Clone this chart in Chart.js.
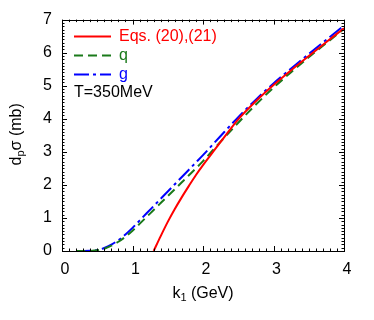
<!DOCTYPE html>
<html>
<head>
<meta charset="utf-8">
<script src="https://cdn.jsdelivr.net/npm/chart.js@4/dist/chart.umd.min.js"></script>
<style>
html,body{margin:0;padding:0;background:#fff;}
#wrap{width:374px;height:320px;position:relative;}
</style>
</head>
<body>
<div id="wrap"><canvas id="c" width="374" height="320"></canvas></div>
<script>
// ---- data ----
const kQG   = [0.2,0.3,0.4,0.5,0.6,0.7,0.8,0.9,1.0,1.1,1.2,1.3,1.4,1.5,1.6,1.7,1.8,1.9,2.0,2.25,2.5,2.75,3.0,3.25,3.5,3.75,4.0];
const gVals = [0,0,0.005,0.03,0.09,0.19,0.33,0.5,0.7,0.92,1.14,1.36,1.58,1.8,2.02,2.24,2.46,2.68,2.9,3.48,4.05,4.58,5.07,5.52,5.96,6.39,6.82];
const qVals = [0,0,0.003,0.02,0.07,0.16,0.28,0.43,0.61,0.82,1.03,1.24,1.45,1.66,1.87,2.08,2.29,2.5,2.72,3.31,3.88,4.43,4.94,5.41,5.86,6.29,6.72];
const kRed  = [1.3,1.4,1.5,1.6,1.7,1.8,1.9,2.0,2.1,2.25,2.5,2.75,3.0,3.25,3.5,3.75,4.0];
const redVals = [0,0.45,0.88,1.27,1.63,1.97,2.3,2.6,2.88,3.3,3.98,4.53,5.02,5.47,5.9,6.32,6.74];
const seriesLabels = ["Eqs. (20),(21)", "q", "g"];
const noteText = "T=350MeV";
const xTicks = [0,1,2,3,4];
const yTicks = [0,1,2,3,4,5,6,7];

const FONT = "'Liberation Sans', Arial, Helvetica, sans-serif";
const RED = '#ff0000', GREEN = '#1a7a1a', BLUE = '#0000ff';

function pts(xs, ys){ return xs.map((x,i)=>({x:x, y:ys[i]})); }

const datasets = [
  {label: seriesLabels[0], data: pts(kRed, redVals), borderColor: RED, borderWidth: 2, borderDash: [], },
  {label: seriesLabels[1], data: pts(kQG, qVals), borderColor: GREEN, borderWidth: 2, borderDash: [9,5]},
  {label: seriesLabels[2], data: pts(kQG, gVals), borderColor: BLUE, borderWidth: 2, borderDash: [15,4,3,4]}
].map(d => Object.assign(d, {pointRadius: 0, fill: false, cubicInterpolationMode: 'monotone', borderCapStyle: 'butt'}));

const framePlugin = {
  id: 'frame',
  afterDatasetsDraw(chart){
    const {ctx, chartArea: a, scales: {x, y}} = chart;
    ctx.save();
    ctx.strokeStyle = '#000';
    ctx.lineWidth = 1;
    ctx.setLineDash([]);
    ctx.beginPath();
    // minor + major ticks, x
    for (let i = 0; i <= 40; i++) {
      const v = i / 10;
      const px = Math.round(x.getPixelForValue(v)) + 0.5;
      const len = (i % 10 === 0) ? 5 : 2.5;
      ctx.moveTo(px, a.bottom); ctx.lineTo(px, a.bottom - len);
      ctx.moveTo(px, a.top); ctx.lineTo(px, a.top + len);
    }
    for (let i = 0; i <= 70; i++) {
      const v = i / 10;
      const py = Math.round(y.getPixelForValue(v)) + 0.5;
      const len = (i % 10 === 0) ? 5 : 2.5;
      ctx.moveTo(a.left, py); ctx.lineTo(a.left + len, py);
      ctx.moveTo(a.right, py); ctx.lineTo(a.right - len, py);
    }
    ctx.stroke();
    ctx.strokeRect(Math.round(a.left)+0.5, Math.round(a.top)+0.5, Math.round(a.right-a.left), Math.round(a.bottom-a.top));

    // legend
    ctx.font = '16px ' + FONT;
    ctx.textBaseline = 'middle';
    ctx.textAlign = 'left';
    chart.data.datasets.forEach((d, i) => {
      const yy = a.top + 17 + i * 19;
      ctx.strokeStyle = d.borderColor;
      ctx.lineWidth = 2;
      ctx.lineCap = 'butt';
      ctx.setLineDash(d.borderDash || []);
      ctx.beginPath();
      ctx.moveTo(a.left + 12, yy); ctx.lineTo(a.left + 49, yy);
      ctx.stroke();
      ctx.fillStyle = d.borderColor;
      ctx.fillText(d.label, a.left + 57, yy);
    });
    ctx.setLineDash([]);
    ctx.fillStyle = '#000';
    ctx.fillText(noteText, a.left + 12, a.top + 73);

    // axis titles with subscripts
    const cx = (a.left + a.right) / 2;
    ctx.font = '16px ' + FONT;
    const parts = [['k',0],['1',1],[' (GeV)',0]];
    const w = parts.reduce((s,p)=>{ ctx.font = (p[1]? '11px ':'16px ') + FONT; return s + ctx.measureText(p[0]).width; }, 0);
    let xx = cx - w/2;
    ctx.textBaseline = 'alphabetic';
    parts.forEach(p => {
      ctx.font = (p[1]? '11px ':'16px ') + FONT;
      ctx.fillText(p[0], xx, 298 + (p[1]?3:0));
      xx += ctx.measureText(p[0]).width;
    });
    // y title rotated
    ctx.save();
    ctx.translate(21, (a.top + a.bottom)/2 - 1);
    ctx.rotate(-Math.PI/2);
    const yparts = [['d',0],['p',1],['\u03c3 (mb)',0]];
    const wy = yparts.reduce((s,p)=>{ ctx.font = (p[1]? '11px ':'16px ') + FONT; return s + ctx.measureText(p[0]).width; }, 0);
    let yx = -wy/2;
    yparts.forEach(p => {
      ctx.font = (p[1]? '11px ':'16px ') + FONT;
      ctx.fillText(p[0], yx, p[1]?3:0);
      yx += ctx.measureText(p[0]).width;
    });
    ctx.restore();
    ctx.restore();
  }
};

new Chart(document.getElementById('c'), {
  type: 'line',
  data: {datasets},
  options: {
    responsive: false,
    animation: false,
    events: [],
    layout: {padding: {left: 0, right: 30, top: 18, bottom: 0}},
    plugins: {legend: {display: false}, tooltip: {enabled: false}},
    scales: {
      x: {
        type: 'linear', min: 0, max: 4,
        afterFit(s){ s.height = 69; },
        afterBuildTicks(s){ s.ticks = xTicks.map(v=>({value:v})); },
        grid: {display: false, drawTicks: false},
        border: {display: false},
        ticks: {font: {size: 16, family: FONT}, color: '#000', padding: 9, labelOffset: 3, maxRotation: 0}
      },
      y: {
        type: 'linear', min: 0, max: 7,
        afterFit(s){ s.width = 62; },
        afterBuildTicks(s){ s.ticks = yTicks.map(v=>({value:v})); },
        grid: {display: false, drawTicks: false},
        border: {display: false},
        ticks: {font: {size: 16, family: FONT}, color: '#000', padding: 10}
      }
    }
  },
  plugins: [framePlugin]
});
</script>
</body>
</html>
